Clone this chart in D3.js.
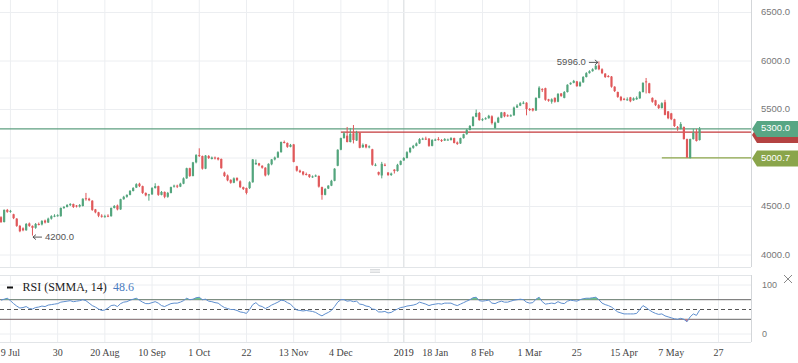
<!DOCTYPE html>
<html>
<head>
<meta charset="utf-8">
<script src="https://cdn.jsdelivr.net/npm/d3@7"></script>
<style>
  body { margin: 0; background: #fff; }
  svg { display: block; }
</style>
</head>
<body>
<svg id="chart" width="798" height="363"></svg>
<script>
// daily candles, one per trading day
var opens = [4390,4340,4465,4445,4420,4375,4300,4275,4255,4325,4300,4280,4320,4315,4355,4335,4375,4400,4405,4400,
  4485,4495,4515,4525,4510,4500,4505,4585,4580,4560,4470,4440,4405,4400,4405,4400,4485,4510,4470,4575,
  4600,4620,4660,4695,4735,4710,4640,4615,4625,4690,4710,4620,4650,4600,4640,4705,4715,4705,4735,4790,
  4895,4815,4955,5030,5020,4890,5020,4990,5005,5000,4990,4850,4820,4775,4745,4795,4760,4700,4690,4690,
  4750,4935,4945,4920,4900,4830,4935,4985,5005,5060,5165,5155,5115,5140,4915,4870,4860,4835,4830,4800,
  4810,4815,4700,4620,4685,4715,4765,4920,5085,5205,5230,5165,5255,5180,5260,5110,5140,5110,5090,4925,
  4855,4820,4930,4850,4825,4880,4865,4930,4975,5000,5060,5105,5125,5150,5195,5200,5200,5125,5185,5195,
  5185,5180,5190,5185,5205,5160,5150,5205,5245,5290,5330,5425,5465,5390,5400,5410,5430,5310,5365,5415,
  5470,5440,5435,5440,5520,5540,5565,5570,5505,5510,5490,5620,5710,5720,5605,5580,5620,5580,5665,5620,
  5680,5760,5775,5790,5740,5780,5835,5875,5895,5915,5955,5915,5870,5845,5840,5735,5680,5630,5610,5600,
  5625,5595,5605,5615,5680,5790,5770,5620,5595,5545,5515,5575,5480,5460,5400,5320,5300,5320,5195,5000,
  5195,5260,5185];
var highs = [4400,4470,4475,4465,4425,4380,4310,4285,4330,4335,4305,4330,4335,4360,4365,4385,4410,4420,4420,4490,
  4505,4525,4535,4530,4515,4525,4585,4640,4590,4565,4475,4445,4420,4415,4420,4490,4515,4520,4580,4610,
  4625,4670,4700,4740,4745,4715,4645,4630,4700,4740,4715,4660,4655,4650,4705,4725,4725,4745,4800,4900,
  4900,4960,5040,5100,5025,5030,5030,5015,5015,5010,4995,4860,4830,4780,4800,4800,4770,4705,4695,4760,
  4990,4985,4950,4925,4905,4945,4990,5015,5070,5170,5180,5160,5145,5145,4920,4880,4865,4850,4835,4820,
  4830,4820,4705,4690,4720,4775,4895,5090,5210,5270,5320,5310,5340,5280,5265,5150,5145,5130,5095,4945,
  4860,4960,4945,4855,4850,4885,4940,4975,5010,5070,5110,5135,5160,5205,5210,5220,5205,5195,5200,5215,
  5195,5205,5200,5215,5210,5170,5210,5250,5300,5340,5430,5500,5475,5410,5420,5445,5440,5375,5425,5475,
  5475,5450,5450,5530,5555,5575,5585,5575,5515,5515,5625,5740,5720,5725,5610,5615,5625,5670,5670,5690,
  5760,5780,5805,5795,5790,5845,5885,5905,5925,5960,5996,5925,5875,5855,5845,5740,5685,5640,5620,5625,
  5630,5625,5635,5690,5780,5825,5775,5625,5600,5555,5575,5600,5485,5465,5405,5330,5370,5325,5200,5200,
  5300,5300,5320];
var lows = [4330,4335,4435,4435,4370,4290,4235,4245,4250,4290,4200,4270,4305,4305,4325,4330,4365,4390,4395,4395,
  4475,4490,4505,4485,4490,4490,4500,4560,4555,4455,4430,4390,4385,4385,4390,4395,4480,4460,4465,4570,
  4590,4615,4655,4690,4700,4630,4605,4560,4620,4685,4610,4615,4585,4590,4635,4695,4690,4700,4730,4785,
  4805,4810,4945,5010,4880,4885,4990,4985,4985,4975,4890,4805,4760,4735,4740,4760,4690,4670,4625,4680,
  4745,4930,4915,4890,4810,4820,4925,4975,5000,5055,5150,5105,5110,4955,4860,4845,4820,4820,4795,4795,
  4805,4695,4570,4615,4680,4710,4760,4915,5080,5200,5160,5160,5150,5175,5100,5105,5100,5100,4920,4915,
  4820,4790,4915,4815,4815,4840,4860,4925,4970,4995,5050,5095,5120,5145,5185,5185,5115,5120,5175,5180,
  5165,5175,5180,5180,5150,5135,5145,5200,5240,5285,5325,5420,5385,5380,5395,5405,5345,5300,5360,5410,
  5420,5425,5425,5435,5515,5535,5555,5440,5485,5480,5485,5615,5680,5590,5580,5560,5570,5575,5630,5615,
  5675,5755,5770,5735,5735,5775,5830,5870,5890,5910,5905,5865,5825,5830,5725,5680,5620,5585,5595,5590,
  5575,5590,5600,5610,5675,5665,5665,5570,5535,5505,5510,5440,5400,5390,5320,5280,5295,5190,5000,4995,
  5190,5170,5180];
var closes = [4340,4465,4445,4455,4380,4300,4245,4255,4320,4300,4280,4320,4315,4350,4335,4375,4400,4405,4410,4485,
  4495,4515,4525,4495,4500,4515,4580,4580,4565,4465,4440,4405,4400,4400,4400,4485,4505,4470,4575,4600,
  4620,4660,4690,4730,4710,4640,4615,4625,4690,4710,4620,4650,4600,4640,4700,4715,4705,4735,4790,4895,
  4815,4955,5030,5020,4890,5025,5000,5005,4995,4985,4895,4815,4770,4745,4790,4770,4700,4680,4640,4750,
  4985,4950,4925,4900,4820,4940,4985,5005,5060,5165,5160,5115,5135,4960,4870,4855,4830,4830,4805,4810,
  4820,4705,4620,4680,4715,4765,4890,5085,5205,5255,5165,5250,5185,5260,5105,5135,5110,5120,4930,4930,
  4830,4940,4925,4825,4840,4865,4930,4970,5000,5060,5105,5125,5150,5195,5200,5195,5125,5185,5190,5185,
  5175,5195,5190,5205,5155,5145,5205,5245,5290,5330,5425,5465,5390,5400,5410,5435,5360,5365,5415,5470,
  5430,5435,5440,5520,5540,5565,5570,5505,5495,5490,5620,5725,5700,5600,5590,5605,5580,5660,5640,5680,
  5755,5775,5795,5740,5780,5835,5875,5895,5915,5950,5915,5875,5835,5840,5735,5690,5630,5595,5605,5605,
  5585,5615,5620,5680,5775,5785,5670,5580,5545,5515,5565,5445,5410,5400,5330,5310,5350,5195,5005,5195,
  5260,5175,5300];

// RSI (SMMA, 14)
var rsi = [69,71,73,68,62,57,53,54,56,52,51,54,55,57,56,59,60,61,62,65,
  66,67,68,66,67,68,70,68,63,58,55,51,48,49,53,58,59,56,62,65,
  66,69,71,73,69,65,62,62,64,66,63,58,56,59,62,63,63,65,68,73,
  70,71,74,75,70,71,67,66,64,63,58,54,52,50,50,48,45,44,42,50,
  60,64,58,56,52,55,59,62,65,69,68,64,61,54,49,48,47,48,47,46,
  44,40,37,41,44,48,56,65,70,70,67,68,66,67,61,60,57,56,51,50,
  45,45,46,43,44,48,51,54,55,57,58,59,61,65,63,61,58,60,61,62,
  61,63,63,63,60,58,61,64,67,70,74,75,68,67,68,69,63,62,65,67,
  65,65,67,69,70,71,70,65,63,64,71,75,66,61,62,63,62,66,63,62,
  67,69,68,67,70,72,73,73,74,75,70,63,60,58,55,50,45,43,41,41,
  41,41,42,50,58,54,49,45,42,40,41,37,35,33,31,30,32,30,25,35,
  41,38,48.6];

var tickIdx = [3, 18, 33, 48, 63, 78, 93, 108, 123, 138, 153, 168, 183, 198, 213, 228];
var tickLabels = ["9 Jul", "30", "20 Aug", "10 Sep", "1 Oct", "22", "13 Nov", "4 Dec", "", "18 Jan", "8 Feb", "1 Mar", "25", "15 Apr", "7 May", "27"];
var yearIdx = 128, yearLabel = "2019";

var priceTicks = [4000, 4500, 5000, 5500, 6000, 6500];
var lastPrice = 5300.0, redLevel = 5267, redStart = 108;
var lowMark = 5000.7, lowMarkStart = 210;
var highIdx = 190, highVal = 5996.0, lowIdx = 10, lowVal = 4200.0;

var green = "#53a57d", red = "#e0585a";
var axisX = 751;
var sans = "Liberation Sans, Arial, sans-serif";
var serif = "Liberation Serif, Times New Roman, serif";

var svg = d3.select("#chart");

var x = d3.scaleLinear().domain([0, 222]).range([1, 699.6]);
var y = d3.scaleLinear().domain([4000, 6500]).range([255, 12.5]);
var yR = d3.scaleLinear().domain([0, 100]).range([334, 285]);

// grid
var grid = svg.append("g");
tickIdx.forEach(function(t) {
  grid.append("line").attr("x1", x(t)).attr("x2", x(t)).attr("y1", 0).attr("y2", 267)
    .attr("stroke", "#eceef1");
  grid.append("line").attr("x1", x(t)).attr("x2", x(t)).attr("y1", 275).attr("y2", 342)
    .attr("stroke", "#eceef1");
});
grid.append("line").attr("x1", x(yearIdx)).attr("x2", x(yearIdx)).attr("y1", 0).attr("y2", 267)
  .attr("stroke", "#dfe2e5").attr("stroke-width", 1.3);
grid.append("line").attr("x1", x(yearIdx)).attr("x2", x(yearIdx)).attr("y1", 275).attr("y2", 342)
  .attr("stroke", "#dfe2e5").attr("stroke-width", 1.3);

priceTicks.forEach(function(p) {
  grid.append("line").attr("x1", 0).attr("x2", axisX).attr("y1", y(p)).attr("y2", y(p))
    .attr("stroke", "#eceef1");
});
[0, 100].forEach(function(v) {
  grid.append("line").attr("x1", 0).attr("x2", axisX).attr("y1", yR(v)).attr("y2", yR(v))
    .attr("stroke", "#eceef1");
});

// panel borders
svg.append("line").attr("x1", 0).attr("x2", axisX).attr("y1", 267.5).attr("y2", 267.5).attr("stroke", "#e2e5e8");
svg.append("line").attr("x1", 0).attr("x2", axisX).attr("y1", 275.5).attr("y2", 275.5).attr("stroke", "#e2e5e8");
svg.append("line").attr("x1", 0).attr("x2", axisX).attr("y1", 342.5).attr("y2", 342.5).attr("stroke", "#e2e5e8");
svg.append("line").attr("x1", axisX + 0.5).attr("x2", axisX + 0.5).attr("y1", 0).attr("y2", 267).attr("stroke", "#d3d6d9");
svg.append("line").attr("x1", axisX + 0.5).attr("x2", axisX + 0.5).attr("y1", 275).attr("y2", 342).attr("stroke", "#d3d6d9");

// panel grip
[269.5, 271, 272.5].forEach(function(gy) {
  svg.append("line").attr("x1", 370).attr("x2", 380).attr("y1", gy).attr("y2", gy)
    .attr("stroke", "#d0d3d6").attr("stroke-width", 0.8);
});

// price levels
svg.append("line").attr("x1", x(redStart)).attr("x2", axisX).attr("y1", y(redLevel)).attr("y2", y(redLevel))
  .attr("stroke", "#c4393b").attr("stroke-width", 1.2);
svg.append("line").attr("x1", 0).attr("x2", axisX).attr("y1", y(lastPrice)).attr("y2", y(lastPrice))
  .attr("stroke", "#5e9f80").attr("stroke-width", 1.2);
svg.append("line").attr("x1", x(lowMarkStart)).attr("x2", axisX).attr("y1", y(lowMark)).attr("y2", y(lowMark))
  .attr("stroke", "#8ba548").attr("stroke-width", 1.2);

// candles
var idx = d3.range(closes.length);
var candle = svg.append("g").selectAll("g")
  .data(idx)
  .enter()
  .append("g");

candle.append("line")
  .attr("x1", function(i) { return x(i); })
  .attr("x2", function(i) { return x(i); })
  .attr("y1", function(i) { return y(highs[i]); })
  .attr("y2", function(i) { return y(lows[i]); })
  .attr("stroke", function(i) { return closes[i] >= opens[i] ? green : red; })
  .attr("stroke-width", 1);

candle.append("rect")
  .attr("x", function(i) { return x(i) - 1.1; })
  .attr("width", 2.2)
  .attr("y", function(i) { return y(Math.max(opens[i], closes[i])); })
  .attr("height", function(i) { return Math.max(1, Math.abs(y(opens[i]) - y(closes[i]))); })
  .attr("fill", function(i) { return closes[i] >= opens[i] ? green : red; });

// high / low marks, with drawn arrows
var hx = x(highIdx) - 1, hy = y(highVal) + 1;
svg.append("path")
  .attr("d", "M" + (hx - 9) + "," + hy + "H" + hx + "M" + (hx - 3) + "," + (hy - 2.5) + "L" + hx + "," + hy + "L" + (hx - 3) + "," + (hy + 2.5))
  .attr("stroke", "#444").attr("fill", "none").attr("stroke-width", 0.9);
svg.append("text")
  .attr("x", hx - 12).attr("y", hy + 0.5)
  .attr("text-anchor", "end").attr("dominant-baseline", "middle")
  .attr("font-family", sans).attr("font-size", 9.5)
  .attr("fill", "#555")
  .text(highVal.toFixed(1));

var lx = x(lowIdx) + 0.5, ly = y(lowVal) + 1.5;
svg.append("path")
  .attr("d", "M" + lx + "," + ly + "H" + (lx + 9) + "M" + (lx + 3) + "," + (ly - 2.5) + "L" + lx + "," + ly + "L" + (lx + 3) + "," + (ly + 2.5))
  .attr("stroke", "#444").attr("fill", "none").attr("stroke-width", 0.9);
svg.append("text")
  .attr("x", lx + 12).attr("y", ly + 0.5)
  .attr("dominant-baseline", "middle")
  .attr("font-family", sans).attr("font-size", 9.5)
  .attr("fill", "#555")
  .text(lowVal.toFixed(1));

// right price axis
svg.append("g").selectAll("text")
  .data(priceTicks.filter(function(p) { return p !== 5000; }))
  .enter()
  .append("text")
  .attr("x", 761).attr("y", function(p) { return y(p); })
  .attr("dominant-baseline", "middle")
  .attr("font-family", sans).attr("font-size", 9.5)
  .attr("fill", "#777")
  .text(function(p) { return p.toFixed(1); });

function tag(price, dy) {
  var cy = y(price) + dy, top = cy - 8, bot = cy + 8;
  return "M752," + cy + "L757," + top + "L798," + top + "L798," + bot + "L757," + bot + "Z";
}
svg.append("path").attr("d", tag(redLevel, 3)).attr("fill", "#b44342");
svg.append("path").attr("d", tag(lastPrice, 0)).attr("fill", "#58a684");
svg.append("path").attr("d", tag(lowMark, 0.5)).attr("fill", "#8aa54b");
[[lastPrice, 0], [lowMark, 0.5]].forEach(function(t) {
  svg.append("text")
    .attr("x", 761).attr("y", y(t[0]) + t[1])
    .attr("dominant-baseline", "middle")
    .attr("font-family", sans).attr("font-size", 9.5)
    .attr("fill", "#fff")
    .text(t[0].toFixed(1));
});

// RSI panel
svg.append("line").attr("x1", 0).attr("x2", axisX).attr("y1", yR(70)).attr("y2", yR(70)).attr("stroke", "#666");
svg.append("line").attr("x1", 0).attr("x2", axisX).attr("y1", yR(30)).attr("y2", yR(30)).attr("stroke", "#666");
svg.append("line").attr("x1", 0).attr("x2", axisX).attr("y1", yR(50)).attr("y2", yR(50))
  .attr("stroke", "#555").attr("stroke-dasharray", "4,3");

var defs = svg.append("defs");
defs.append("clipPath").attr("id", "ob").append("rect")
  .attr("x", 0).attr("y", 270).attr("width", axisX).attr("height", yR(70) - 270);
defs.append("clipPath").attr("id", "os").append("rect")
  .attr("x", 0).attr("y", yR(30)).attr("width", axisX).attr("height", 345 - yR(30));

svg.append("path")
  .datum(idx)
  .attr("clip-path", "url(#ob)")
  .attr("fill", "#6cc68a")
  .attr("d", d3.area().x(function(i) { return x(i); }).y0(yR(70)).y1(function(i) { return yR(rsi[i]); }));
svg.append("path")
  .datum(idx)
  .attr("clip-path", "url(#os)")
  .attr("fill", "#e07a8a")
  .attr("d", d3.area().x(function(i) { return x(i); }).y0(yR(30)).y1(function(i) { return yR(rsi[i]); }));

svg.append("path")
  .datum(idx)
  .attr("fill", "none")
  .attr("stroke", "#5f8fcf")
  .attr("stroke-width", 1)
  .attr("d", d3.line().x(function(i) { return x(i); }).y(function(i) { return yR(rsi[i]); }));

svg.append("g").selectAll("text")
  .data([0, 100])
  .enter()
  .append("text")
  .attr("x", 762).attr("y", function(v) { return yR(v) + 1; })
  .attr("dominant-baseline", "middle")
  .attr("font-family", sans).attr("font-size", 9)
  .attr("fill", "#777")
  .text(function(v) { return v; });

// close icon
svg.append("path").attr("d", "M784,275L792,283M792,275L784,283")
  .attr("stroke", "#888").attr("stroke-width", 1);

// RSI legend
svg.append("line").attr("x1", 7).attr("x2", 13).attr("y1", 287.5).attr("y2", 287.5)
  .attr("stroke", "#111").attr("stroke-width", 2);
svg.append("text")
  .attr("x", 22.5).attr("y", 288)
  .attr("dominant-baseline", "middle")
  .attr("font-family", serif).attr("font-size", 12)
  .attr("fill", "#222")
  .text("RSI (SMMA, 14)");
svg.append("text")
  .attr("x", 113).attr("y", 288)
  .attr("dominant-baseline", "middle")
  .attr("font-family", serif).attr("font-size", 12)
  .attr("fill", "#4a7cc0")
  .text(rsi[rsi.length - 1].toFixed(1));

// time axis
svg.append("g").selectAll("text")
  .data(tickIdx)
  .enter()
  .append("text")
  .attr("x", function(t) { return x(t); })
  .attr("y", 354)
  .attr("text-anchor", "middle").attr("dominant-baseline", "middle")
  .attr("font-family", serif).attr("font-size", 10)
  .attr("fill", "#444")
  .text(function(t, i) { return tickLabels[i]; });
svg.append("text")
  .attr("x", x(yearIdx)).attr("y", 354)
  .attr("text-anchor", "middle").attr("dominant-baseline", "middle")
  .attr("font-family", serif).attr("font-size", 10)
  .attr("fill", "#333")
  .text(yearLabel);
</script>
</body>
</html>
